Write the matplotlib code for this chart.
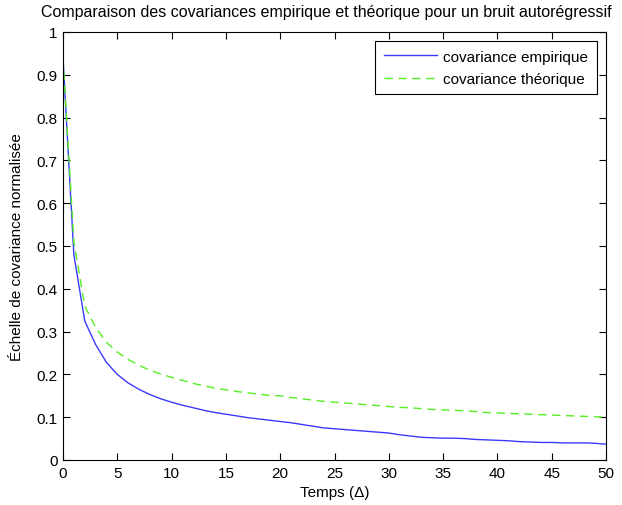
import matplotlib
matplotlib.use("Agg")
import matplotlib.pyplot as plt

plt.rcParams['font.family'] = ['Liberation Sans', 'DejaVu Sans']

temps = list(range(0, 51))
cov_empirique = [0.94, 0.48, 0.325, 0.27, 0.228, 0.200, 0.180, 0.165, 0.153, 0.143,
                 0.135, 0.128, 0.122, 0.116, 0.111, 0.107, 0.103, 0.099, 0.096, 0.093,
                 0.090, 0.087, 0.083, 0.079, 0.075, 0.073, 0.071, 0.069, 0.067, 0.065,
                 0.063, 0.059, 0.056, 0.053, 0.052, 0.051, 0.051, 0.050, 0.048, 0.047,
                 0.046, 0.045, 0.043, 0.042, 0.041, 0.041, 0.040, 0.040, 0.040, 0.039,
                 0.037]
cov_theorique = [0.94, 0.51, 0.36, 0.31, 0.275, 0.252, 0.235, 0.221, 0.210, 0.201,
                 0.193, 0.186, 0.179, 0.173, 0.168, 0.164, 0.160, 0.157, 0.154, 0.151,
                 0.150, 0.146, 0.143, 0.140, 0.137, 0.135, 0.133, 0.131, 0.129, 0.127,
                 0.125, 0.123, 0.122, 0.120, 0.118, 0.117, 0.116, 0.115, 0.113, 0.111,
                 0.110, 0.109, 0.108, 0.107, 0.106, 0.105, 0.104, 0.103, 0.102, 0.101,
                 0.100]
xticks = list(range(0, 51, 5))
yticks = [0, 0.1, 0.2, 0.3, 0.4, 0.5, 0.6, 0.7, 0.8, 0.9, 1]
ytick_labels = ['0', '0.1', '0.2', '0.3', '0.4', '0.5', '0.6', '0.7', '0.8', '0.9', '1']

fig = plt.figure(figsize=(6.22, 5.06), dpi=100)
ax = fig.add_axes([63/622, 45/506, 543/622, 428/506])

ax.plot(temps, cov_empirique, color='#3a3aff', lw=1.0, label='covariance empirique')
ax.plot(temps, cov_theorique, color='#55ee22', lw=1.0, ls=(0, (6, 4)), label='covariance théorique')

ax.set_xlim(0, 50)
ax.set_ylim(0, 1)
ax.set_xticks(xticks)
ax.set_yticks(yticks)
ax.set_yticklabels(ytick_labels)
ax.tick_params(direction='in', top=True, right=True, length=5, width=0.8,
               labelsize=11, pad=4)
for s in ax.spines.values():
    s.set_linewidth(0.8)

fig.text(326/622, 1 - 13/506,
         'Comparaison des covariances empirique et théorique pour un bruit autorégressif',
         fontsize=11.5, ha='center', va='center')
ax.set_xlabel('Temps (Δ)', fontsize=11, labelpad=4)
ax.set_ylabel('Échelle de covariance normalisée', fontsize=11, labelpad=9)

leg = ax.legend(loc='upper right', fontsize=11, fancybox=False, framealpha=1,
                edgecolor='black', borderaxespad=0.6, handlelength=3.5,
                handletextpad=0.4, borderpad=0.55, labelspacing=0.55)
leg.get_frame().set_linewidth(0.8)

fig.savefig('out.png', dpi=100)
